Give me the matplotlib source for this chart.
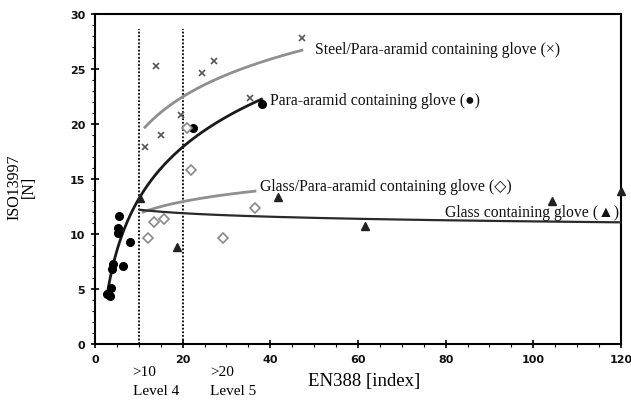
"""
EN388 index vs ISO13997 cut force for several glove types, with log trend lines.
"""
import numpy as np
import matplotlib
matplotlib.use('Agg')
import matplotlib.pyplot as plt
from matplotlib.ticker import MultipleLocator

# measured gloves (EN388 index, ISO13997 force in N)
steel_x = [11.4, 13.9, 15.0, 19.6, 24.5, 27.2, 35.4, 47.2]
steel_y = [17.9, 25.3, 19.0, 20.8, 24.6, 25.7, 22.4, 27.8]

para_x = [2.8, 3.5, 3.6, 3.8, 4.2, 5.5, 5.2, 5.2, 8.0, 6.4, 22.4, 38.0]
para_y = [4.5, 4.4, 5.1, 6.8, 7.3, 11.6, 10.5, 10.1, 9.3, 7.1, 19.6, 21.8]

glass_para_x = [12.2, 13.5, 15.8, 21.9, 29.3, 36.5, 21.1]
glass_para_y = [9.6, 11.1, 11.4, 15.8, 9.6, 12.4, 19.6]

glass_x = [10.3, 18.8, 41.8, 61.6, 104.2, 120.0]
glass_y = [13.3, 8.8, 13.4, 10.7, 13.0, 13.9]

# logarithmic trend lines y = a + b*ln(x): (a, b, x_start, x_end)
steel_trend = (7.7, 4.93, 11.4, 47.2)
para_trend = (-2.41, 6.78, 2.8, 38.0)
glass_para_trend = (8.21, 1.58, 11.0, 36.5)
glass_trend = (13.28, -0.464, 10.3, 120.0)

labels = ['Steel/Para-aramid containing glove (\u00d7)',
          'Para-aramid containing glove (\u25cf)',
          'Glass/Para-aramid containing glove (\u25c7)',
          'Glass containing glove (\u25b2)']
label_pos = [(50.2, 26.8), (39.9, 22.2), (37.6, 14.4), (79.8, 12.0)]

serif = ['Liberation Serif', 'DejaVu Serif']

fig = plt.figure(figsize=(6.31, 4.02), dpi=100)
ax = fig.add_axes([0.1506, 0.1418, 0.8334, 0.821])


def trend(params, color, lw):
    a, b, x0, x1 = params
    xs = np.linspace(x0, x1, 200)
    ax.plot(xs, a + b * np.log(xs), color=color, lw=lw, zorder=3)


trend(steel_trend, '#8f8f8f', 2.0)
trend(para_trend, '#1a1a1a', 2.0)
trend(glass_para_trend, '#8f8f8f', 2.0)
trend(glass_trend, '#2a2a2a', 1.6)

ax.plot(steel_x, steel_y, 'x', color='#555555', ms=4, mew=1.2, zorder=4)
ax.plot(para_x, para_y, 'o', color='black', ms=5.5, zorder=4)
ax.plot(glass_para_x, glass_para_y, 'D', mfc='white', mec='#8a8a8a', ms=5, mew=1.2, zorder=4)
ax.plot(glass_x, glass_y, '^', color='#222222', ms=5.5, zorder=4, clip_on=False)

# EN388 level 4 / level 5 boundaries
for lvl in (10, 20):
    ax.plot([lvl, lvl], [0, 28.6], color='black', lw=1.3, ls=(0, (1, 1)), zorder=2)

for txt, (lx, ly) in zip(labels, label_pos):
    ax.text(lx, ly, txt, fontsize=11.3, family=serif + ['DejaVu Sans'],
            ha='left', va='center', color='#111111', zorder=5)

ax.set_xlim(0, 120)
ax.set_ylim(0, 30)
ax.xaxis.set_major_locator(MultipleLocator(20))
ax.xaxis.set_minor_locator(MultipleLocator(5))
ax.yaxis.set_major_locator(MultipleLocator(5))
ax.yaxis.set_minor_locator(MultipleLocator(1))
ax.tick_params(which='major', direction='inout', length=6, width=1.2, pad=4)
ax.tick_params(which='minor', direction='out', length=2.5, width=0.8)
for lab in ax.get_xticklabels() + ax.get_yticklabels():
    lab.set_family('DejaVu Sans')
    lab.set_fontweight('bold')
    lab.set_fontsize(8)
    lab.set_color('#111111')
for sp in ax.spines.values():
    sp.set_linewidth(1.5)

# axis titles placed by hand, as in the original
ax.text(61.4, -3.35, 'EN388 [index]', family=serif, fontsize=13.5,
        ha='center', va='center', clip_on=False)
fig.text(22 / 631, 1 - 187 / 402, 'ISO13997\n[N]', family=serif, fontsize=11.5,
         rotation=90, ha='center', va='center', linespacing=0.85)

for lx, lvl_text in ((8.6, ['>10', 'Level 4']), (26.3, ['>20', 'Level 5'])):
    ax.text(lx, -2.52, lvl_text[0], family=serif, fontsize=11,
            ha='left', va='center', clip_on=False)
    ax.text(lx, -4.25, lvl_text[1], family=serif, fontsize=11,
            ha='left', va='center', clip_on=False)

plt.savefig('out.png', dpi=100)
